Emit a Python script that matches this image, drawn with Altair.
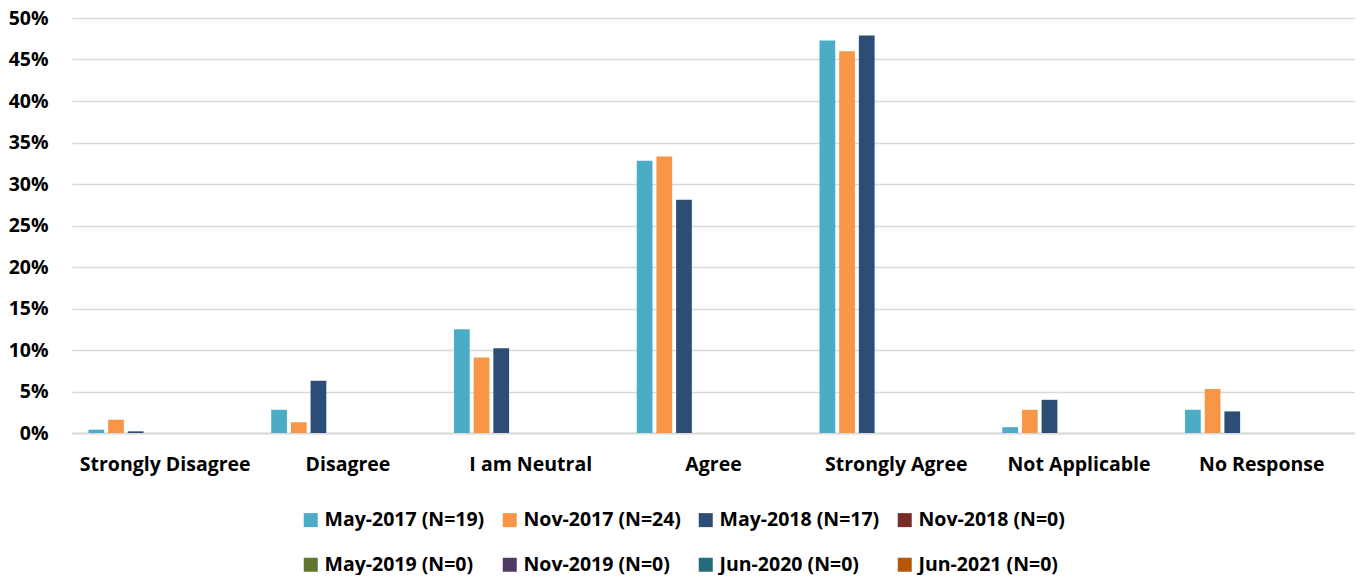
import altair as alt
import pandas as pd

categories = ["Strongly Disagree", "Disagree", "I am Neutral", "Agree",
              "Strongly Agree", "Not Applicable", "No Response"]
series = ["May-2017 (N=19)", "Nov-2017 (N=24)", "May-2018 (N=17)", "Nov-2018 (N=0)",
          "May-2019 (N=0)", "Nov-2019 (N=0)", "Jun-2020 (N=0)", "Jun-2021 (N=0)"]
colors = ["#4bacc6", "#f79646", "#2c4d75", "#772c2a",
          "#5f7530", "#4d3b62", "#276a7c", "#b65708"]

may2017 = [0.4, 2.8, 12.5, 32.8, 47.3, 0.7, 2.8]
nov2017 = [1.6, 1.3, 9.1, 33.3, 46.0, 2.8, 5.3]
may2018 = [0.2, 6.3, 10.2, 28.1, 47.9, 4.0, 2.6]
nov2018 = [0, 0, 0, 0, 0, 0, 0]
may2019 = [0, 0, 0, 0, 0, 0, 0]
nov2019 = [0, 0, 0, 0, 0, 0, 0]
jun2020 = [0, 0, 0, 0, 0, 0, 0]
jun2021 = [0, 0, 0, 0, 0, 0, 0]

y_ticks = [0, 5, 10, 15, 20, 25, 30, 35, 40, 45, 50]

all_vals = [may2017, nov2017, may2018, nov2018, may2019, nov2019, jun2020, jun2021]
rows = []
for s, vals in zip(series, all_vals):
    for c, v in zip(categories, vals):
        rows.append({"category": c, "series": s, "value": v})
df = pd.DataFrame(rows)

FONT = "Open Sans"
FS = 19.5

chart = alt.Chart(df).mark_bar().encode(
    x=alt.X("category:N", sort=categories, title=None,
            scale=alt.Scale(paddingInner=0.16, paddingOuter=0.09),
            axis=alt.Axis(labelAngle=0, labelFontSize=FS, labelFontWeight="bold",
                          labelColor="#000000", labelPadding=22, ticks=False,
                          domainColor="#d9d9d9", domainWidth=2, labelFont=FONT)),
    xOffset=alt.XOffset("series:N", sort=series,
                        scale=alt.Scale(paddingInner=0.2)),
    y=alt.Y("value:Q", title=None,
            scale=alt.Scale(domain=[0, 50], nice=False),
            axis=alt.Axis(values=y_ticks, labelExpr="datum.value + '%'",
                          labelFontSize=FS, labelFontWeight="bold", labelColor="#000000",
                          labelPadding=24, ticks=False, domain=False,
                          gridColor="#d9d9d9", gridWidth=1.5, labelFont=FONT)),
    color=alt.Color("series:N", sort=series,
                    scale=alt.Scale(domain=series, range=colors),
                    legend=alt.Legend(title=None, orient="none", legendX=229, legendY=492,
                                      columns=4, direction="horizontal",
                                      symbolType="square", symbolSize=196,
                                      symbolStrokeWidth=0,
                                      labelFontSize=FS, labelFontWeight="bold",
                                      labelColor="#000000", labelFont=FONT,
                                      rowPadding=24, columnPadding=15,
                                      labelLimit=300)),
).properties(
    width=1283, height=415,
    padding={"left": 0, "top": 0, "right": 0, "bottom": 0},
).configure_view(stroke=None)

chart.save("out.html", embed_options={"renderer": "svg", "actions": False})
